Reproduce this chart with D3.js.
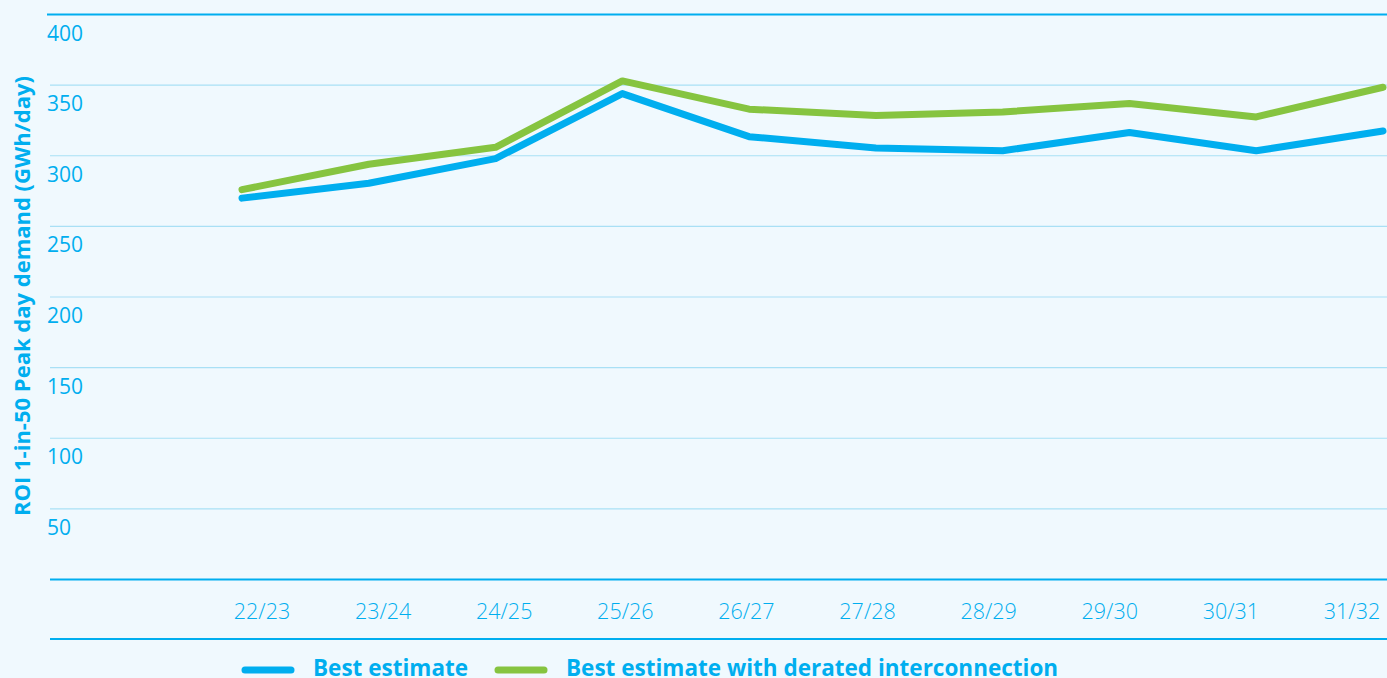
<!DOCTYPE html>
<html>
<head>
<meta charset="utf-8">
<script src="https://cdn.jsdelivr.net/npm/d3@7"></script>
<style>
  html, body { margin: 0; padding: 0; background: #F0F9FE; overflow: hidden; }
  svg { display: block; }
  text { font-family: "Open Sans", "Noto Sans", sans-serif; fill: #00AEEF; }
</style>
</head>
<body>
<svg id="chart" width="1387" height="678"></svg>
<script>
// Gas years on the category axis
const years = ["22/23", "23/24", "24/25", "25/26", "26/27", "27/28", "28/29", "29/30", "30/31", "31/32"];

// ROI 1-in-50 peak day demand, GWh/day
const bestEstimate = [270, 280.5, 298, 344, 313.5, 305.5, 303.5, 316.5, 303.5, 317.5];
const bestEstimateDerated = [276, 294, 306, 353, 333, 328.5, 331, 337, 327.5, 348.5];

const yTicks = [50, 100, 150, 200, 250, 300, 350, 400];

const seriesNames = ["Best estimate", "Best estimate with derated interconnection"];
const seriesColors = ["#00AEEF", "#86C440"];

const W = 1387, H = 678;
const svg = d3.select("#chart");

const y = d3.scaleLinear().domain([0, 400]).range([579.5, 14.5]);
const x = d3.scalePoint().domain(years).range([242, 1383]);
const xLabel = d3.scalePoint().domain(years).range([262, 1352]);

// Horizontal gridlines
svg.append("g").selectAll("line")
  .data(yTicks.filter(v => v < 400))
  .join("line")
  .attr("x1", 50).attr("x2", W)
  .attr("y1", d => y(d)).attr("y2", d => y(d))
  .attr("stroke", "#A9E0F5").attr("stroke-width", 1.2);

// Top rule and category axis band
svg.append("line").attr("x1", 47).attr("x2", W)
  .attr("y1", y(400)).attr("y2", y(400))
  .attr("stroke", "#00AEEF").attr("stroke-width", 2);
svg.append("line").attr("x1", 50).attr("x2", W)
  .attr("y1", y(0)).attr("y2", y(0))
  .attr("stroke", "#00AEEF").attr("stroke-width", 2.2);
svg.append("line").attr("x1", 50).attr("x2", W)
  .attr("y1", 639).attr("y2", 639)
  .attr("stroke", "#00AEEF").attr("stroke-width", 2.2);

// Value labels sit just under each gridline
svg.append("g").selectAll("text")
  .data(yTicks)
  .join("text")
  .attr("x", 47)
  .attr("y", d => y(d) + 26)
  .attr("font-size", 21)
  .text(d => d);

// Category labels
svg.append("g").selectAll("text")
  .data(years)
  .join("text")
  .attr("x", d => xLabel(d))
  .attr("y", 619)
  .attr("text-anchor", "middle")
  .attr("font-size", 21.5)
  .attr("font-weight", 300)
  .text(d => d);

// Axis title
svg.append("text")
  .attr("transform", "translate(22,296) rotate(-90)")
  .attr("text-anchor", "middle")
  .attr("dy", "0.35em")
  .attr("font-size", 22)
  .attr("font-weight", 700)
  .text("ROI 1-in-50 Peak day demand (GWh/day)");

// Series lines
const line = d3.line().x((d, i) => x(years[i])).y(d => y(d));
[bestEstimate, bestEstimateDerated].forEach((vals, k) => {
  svg.append("path")
    .datum(vals)
    .attr("d", line)
    .attr("fill", "none")
    .attr("stroke", seriesColors[k])
    .attr("stroke-width", 7)
    .attr("stroke-linecap", "round")
    .attr("stroke-linejoin", "round");
});

// Legend
const legendX = [245, 498];
seriesNames.forEach((name, k) => {
  const g = svg.append("g").attr("transform", `translate(${legendX[k]},670)`);
  g.append("line").attr("x1", 0).attr("x2", 46)
    .attr("stroke", seriesColors[k]).attr("stroke-width", 7)
    .attr("stroke-linecap", "round");
  g.append("text").attr("x", 68).attr("y", 5.5)
    .attr("font-size", 22.5).attr("font-weight", 700)
    .text(name);
});
</script>
</body>
</html>
